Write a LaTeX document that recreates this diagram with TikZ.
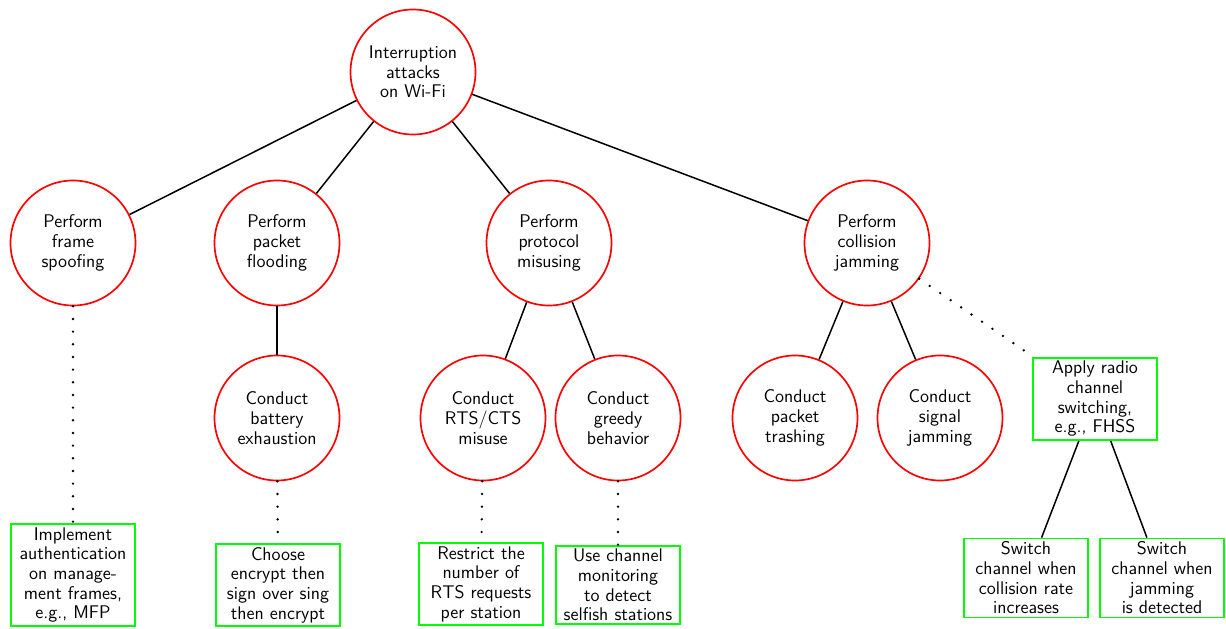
\documentclass[tikz,border=0pt]{standalone}
\usepackage{fontspec}
\begin{document}
\begin{tikzpicture}[x=0.6pt,y=-0.6pt,
  txt/.style={font=\sffamily\fontsize{11}{11.8}\selectfont},
  attack/.style={txt,circle,draw=red,line width=1pt,minimum size=75pt,inner sep=0pt,
    align=center},
  defense/.style={txt,rectangle,draw=green,line width=1.1pt,minimum width=74pt,
    text width=70pt,inner sep=2pt,align=center},
  edge/.style={draw=black,line width=0.9pt},
  dots/.style={draw=black,line width=1.6pt,line cap=round,dash pattern=on 0pt off 7.6pt}]
\useasboundingbox (0,0) rectangle (1226,629);

% attack tree
\node[attack] (root) at (413,72) {Interruption\\attacks\\on Wi-Fi};
\node[attack] (spoof) at (73,243) {Perform\\frame\\spoofing};
\node[attack] (flood) at (277,243) {Perform\\packet\\flooding};
\node[attack] (misuse) at (549,243) {Perform\\protocol\\misusing};
\node[attack] (jam) at (867,243) {Perform\\collision\\jamming};
\node[attack] (battery) at (277,418) {Conduct\\battery\\exhaustion};
\node[attack] (rts) at (483,418) {Conduct\\RTS/CTS\\misuse};
\node[attack] (greedy) at (618,418) {Conduct\\greedy\\behavior};
\node[attack] (trash) at (795,418) {Conduct\\packet\\trashing};
\node[attack] (signal) at (940,418) {Conduct\\signal\\jamming};

% countermeasures
\node[defense] (mfp) at (73,575) {Implement\\authentication\\on manage-\\ment frames,\\e.g., MFP};
\node[defense] (etse) at (278,585) {Choose\\encrypt then\\sign over sing\\then encrypt};
\node[defense] (limit) at (481,584) {Restrict the\\number of\\RTS requests\\per station};
\node[defense] (monitor) at (618,585) {Use channel\\monitoring\\to detect\\selfish stations};
\node[defense] (fhss) at (1095,399) {Apply radio\\channel\\switching,\\e.g., FHSS};
\node[defense] (sw1) at (1026,578) {Switch\\channel when\\collision rate\\increases};
\node[defense] (sw2) at (1162,578) {Switch\\channel when\\jamming\\is detected};

% refinements
\draw[edge] (root) -- (spoof);
\draw[edge] (root) -- (flood);
\draw[edge] (root) -- (misuse);
\draw[edge] (root) -- (jam);
\draw[edge] (flood) -- (battery);
\draw[edge] (misuse) -- (rts);
\draw[edge] (misuse) -- (greedy);
\draw[edge] (jam) -- (trash);
\draw[edge] (jam) -- (signal);
\draw[edge] (fhss) -- (sw1);
\draw[edge] (fhss) -- (sw2);

% countermeasure links
\draw[dots] (spoof) -- (mfp);
\draw[dots] (battery) -- (etse);
\draw[dots] (rts) -- (limit);
\draw[dots] (greedy) -- (monitor);
\draw[dots] (jam) -- (fhss);
\end{tikzpicture}
\end{document}
